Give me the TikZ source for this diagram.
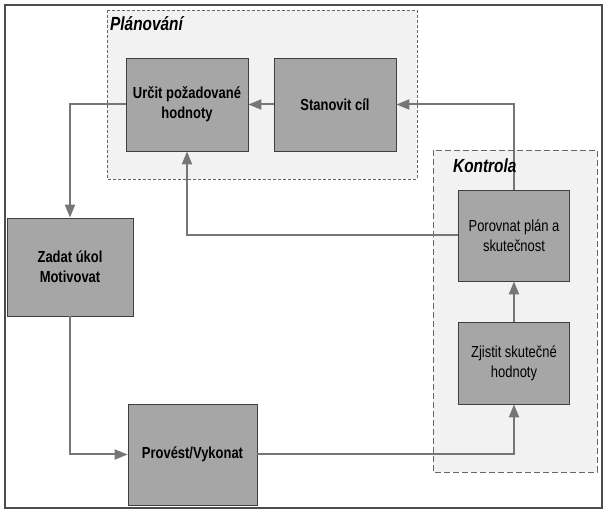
\documentclass[tikz,border=0pt]{standalone}
\usepackage{fontspec}
\setmainfont{Liberation Sans}[FakeStretch=0.81]
\usepackage{tikz}
\usetikzlibrary{arrows.meta,positioning,calc}

\definecolor{boxgray}{HTML}{A6A6A6}
\definecolor{groupgray}{HTML}{F2F2F2}
\definecolor{linegray}{HTML}{767676}

\tikzset{
    box/.style={rectangle,draw=black!75,line width=0.8pt,fill=boxgray,align=center,
        font=\fontsize{16}{20}\selectfont},
    group/.style={draw=black!60,line width=0.8pt,fill=groupgray},
    grouplabel/.style={anchor=base west,inner sep=0pt,font=\fontsize{19}{22}\selectfont\bfseries\itshape},
    flow/.style={-{Triangle[length=13pt,width=10pt]},line width=2pt,draw=linegray}
}

\begin{document}
\begin{tikzpicture}[x=1pt,y=-1pt]
        \useasboundingbox (0,0) rectangle (608,510);
        \draw[black!70,line width=1.2pt] (5,5) rectangle (602,508);

        % Group areas
        \draw[group,dash pattern=on 3pt off 2pt] (107,10) rectangle (417,179);
        \draw[group,dash pattern=on 6pt off 3pt] (433,150) rectangle (597,472);
        \node[grouplabel] (planLabel) at (110,30.7) {Plánování};

        % Planning boxes
        \node[box,font=\fontsize{16}{20}\selectfont\bfseries,minimum width=122pt,minimum height=93pt] (urcit) at (187,104.5) {Určit požadované\\hodnoty};
        \node[box,font=\fontsize{16}{20}\selectfont\bfseries,minimum width=122pt,minimum height=93pt] (stanovit) at (335,104.5) {Stanovit cíl};

        % Left side boxes
        \node[box,font=\fontsize{16}{20}\selectfont\bfseries,minimum width=126pt,minimum height=98pt] (zadat) at (70,267) {Zadat úkol\\Motivovat};
        \node[box,font=\fontsize{16}{20}\selectfont\bfseries,minimum width=129pt,minimum height=101pt] (provest) at (192.5,454.5) {Provést/Vykonat};

        % Control boxes
        \node[box,minimum width=111pt,minimum height=91pt] (porovnat) at (514,235.5) {Porovnat plán a\\skutečnost};
        \node[box,minimum width=111pt,minimum height=82pt] (zjistit) at (514,363) {Zjistit skutečné\\hodnoty};

        % Arcs between boxes
        \draw[flow] (stanovit) -- (urcit);
        \draw[flow] (urcit.west) -| (zadat.north);
        \draw[flow] (zadat.south) |- (provest.west);
        \draw[flow] (provest.east) -| (zjistit.south);
        \draw[flow] (zjistit) -- (porovnat);
        \draw[flow] (porovnat.north) |- (stanovit.east);
        \draw[flow] (porovnat.west) -| (urcit.south);

        \node[grouplabel] (kontrolaLabel) at (453,173) {Kontrola};
    \end{tikzpicture}
\end{document}
